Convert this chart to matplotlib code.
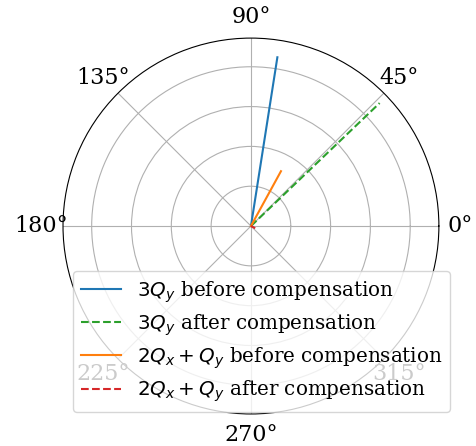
import numpy as np
import matplotlib
matplotlib.use('Agg')
import matplotlib.pyplot as plt

plt.rcParams['font.family'] = 'serif'

# resonance driving terms: (angle in degrees, amplitude)
labels = [r'$3Q_y$ before compensation', r'$3Q_y$ after compensation',
          r'$2Q_x+Q_y$ before compensation', r'$2Q_x+Q_y$ after compensation']
angles_deg = [81.1, 43.7, 61.3, -27.0]
amps = [4.29, 4.47, 1.57, 0.12]
colors = ['C0', 'C2', 'C1', 'C3']
styles = ['-', '--', '-', '--']

fig = plt.figure(figsize=(4.77, 4.46), dpi=100)
ax = fig.add_axes([0.1321, 0.0717, 0.788, 0.843], projection='polar')

for lab, a, r, c, ls in zip(labels, angles_deg, amps, colors, styles):
    ax.plot([0, np.deg2rad(a)], [0, r], color=c, ls=ls, label=lab)

ax.set_rlim(0, 4.72)
ax.set_rticks([1, 2, 3, 4])
ax.set_yticklabels([])
ax.tick_params(axis='x', labelsize=16, pad=5)
ax.legend(loc='upper left', bbox_to_anchor=(0.153, 0.392), bbox_transform=fig.transFigure,
          fontsize=14.3, labelspacing=0.38, borderaxespad=0)

fig.savefig('out.png', dpi=100)
